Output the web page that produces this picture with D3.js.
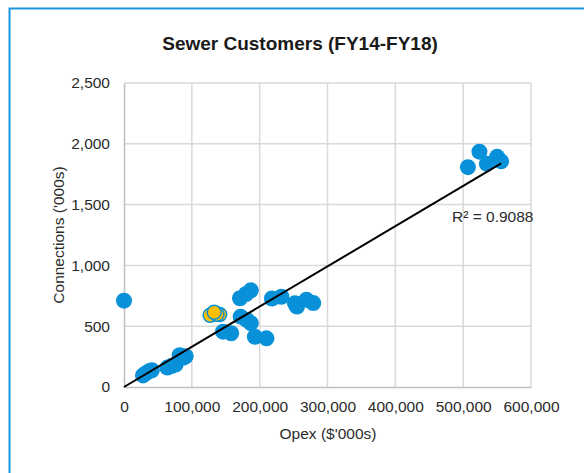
<!DOCTYPE html>
<html>
<head>
<meta charset="utf-8">
<script src="https://cdn.jsdelivr.net/npm/d3@7"></script>
<style>
  body { margin: 0; background: #fff; }
  svg { display: block; font-family: "Liberation Sans", Arial, sans-serif; }
</style>
</head>
<body>
<svg id="chart" width="584" height="473"></svg>
<script>
// main series: opex ($'000s) vs connections ('000s)
const opex = [
  0,
  28000, 32000, 37000, 41000,
  64000, 70000, 76000, 82000, 87000, 91000,
  146000, 158000,
  171000, 180000, 187000,
  172000, 181000, 187000,
  193000, 210000,
  218000, 232000,
  252000, 255000, 269000, 279000,
  507000, 524000, 535000, 550000, 556000
];
const connections = [
  710,
  95, 112, 130, 138,
  160, 172, 185, 262, 240, 252,
  455, 442,
  730, 765, 795,
  578, 552, 525,
  413, 400,
  728, 742,
  688, 662, 718, 690,
  1808, 1935, 1835, 1893, 1856
];

// highlighted points (yellow)
const hlOpex = [127000, 141000, 137000, 133000];
const hlConnections = [590, 596, 598, 614];

const xTicks = [0, 100000, 200000, 300000, 400000, 500000, 600000];
const yTicks = [0, 500, 1000, 1500, 2000, 2500];

// linear trendline
const trendSlope = 0.003306;
const trendIntercept = 0;
const rSquared = "0.9088";

const svg = d3.select("#chart");
const x = d3.scaleLinear().domain([0, 600000]).range([124, 531]);
const y = d3.scaleLinear().domain([0, 2500]).range([387, 83]);
const fmt = d3.format(",");

// chart border
svg.append("rect").attr("x", 9.5).attr("y", 8.5).attr("width", 600).attr("height", 500)
  .attr("fill", "#fff").attr("stroke", "#1b95e0").attr("stroke-width", 2);

// gridlines
svg.append("g").selectAll("line").data(yTicks.slice(1)).enter().append("line")
  .attr("x1", x(0)).attr("x2", x(600000)).attr("y1", d => y(d)).attr("y2", d => y(d))
  .attr("stroke", "#d9d9d9").attr("stroke-width", 1.5);
svg.append("g").selectAll("line").data(xTicks.slice(1)).enter().append("line")
  .attr("y1", y(0)).attr("y2", y(2500)).attr("x1", d => x(d)).attr("x2", d => x(d))
  .attr("stroke", "#d9d9d9").attr("stroke-width", 1.5);

// axes
const xAxis = svg.append("g").attr("transform", `translate(0,${y(0)})`)
  .call(d3.axisBottom(x).tickValues(xTicks).tickFormat(fmt).tickSize(0).tickPadding(14));
const yAxis = svg.append("g").attr("transform", `translate(${x(0)},0)`)
  .call(d3.axisLeft(y).tickValues(yTicks).tickFormat(fmt).tickSize(0).tickPadding(14));
[xAxis, yAxis].forEach(a => {
  a.select(".domain").attr("stroke", "#bfbfbf").attr("stroke-width", 1.5);
  a.selectAll("text").attr("font-size", "15.5px").attr("fill", "#2b2b2b")
    .attr("font-family", '"Liberation Sans", Arial, sans-serif');
});

// points
const pts = opex.map((v, i) => ({ x: v, y: connections[i] }));
svg.append("g").selectAll("circle").data(pts).enter().append("circle")
  .attr("cx", d => x(d.x)).attr("cy", d => y(d.y)).attr("r", 8)
  .attr("fill", "#0891d8");

const hl = hlOpex.map((v, i) => ({ x: v, y: hlConnections[i] }));
svg.append("g").selectAll("circle").data(hl).enter().append("circle")
  .attr("cx", d => x(d.x)).attr("cy", d => y(d.y)).attr("r", 7)
  .attr("fill", "#ffc000").attr("stroke", "#0891d8").attr("stroke-width", 1.5);

// trendline
const [xmin, xmax] = d3.extent(opex);
svg.append("line")
  .attr("x1", x(xmin)).attr("y1", y(trendSlope * xmin + trendIntercept))
  .attr("x2", x(xmax)).attr("y2", y(trendSlope * xmax + trendIntercept))
  .attr("stroke", "#000").attr("stroke-width", 2);

svg.append("text").attr("x", 452).attr("y", 222).attr("font-size", "15.5px").attr("fill", "#2b2b2b")
  .text(`R² = ${rSquared}`);

// titles
svg.append("text").attr("x", 300).attr("y", 50).attr("text-anchor", "middle")
  .attr("font-size", "19px").attr("font-weight", "bold").attr("fill", "#1a1a1a")
  .text("Sewer Customers (FY14-FY18)");
svg.append("text").attr("x", 328).attr("y", 439).attr("text-anchor", "middle")
  .attr("font-size", "15.5px").attr("fill", "#2b2b2b").text("Opex ($'000s)");
svg.append("text").attr("transform", `translate(64,${(y(0) + y(2500)) / 2}) rotate(-90)`)
  .attr("text-anchor", "middle").attr("font-size", "15.5px").attr("fill", "#2b2b2b")
  .text("Connections ('000s)");
</script>
</body>
</html>
